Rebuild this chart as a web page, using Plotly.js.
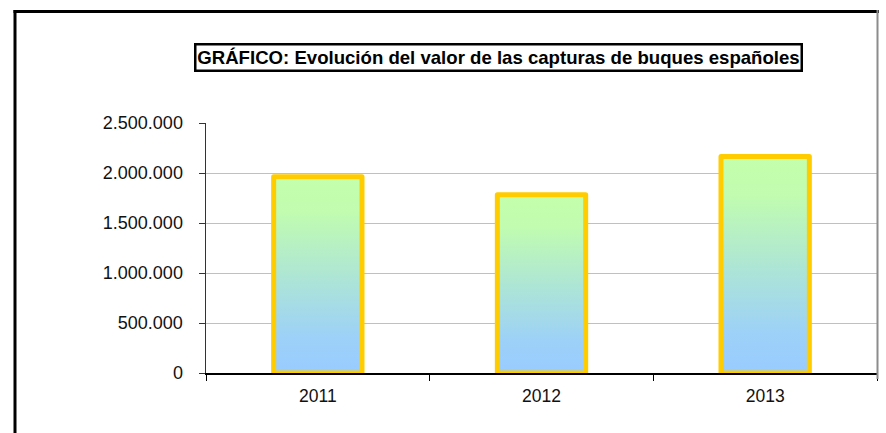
<!DOCTYPE html>
<html>
<head>
<meta charset="utf-8">
<script src="https://cdn.plot.ly/plotly-3.0.1.min.js"></script>
<style>
  html, body { margin: 0; padding: 0; background: #ffffff; }
  #chart { width: 886px; height: 433px; }
</style>
</head>
<body>
<div id="chart"></div>
<script>
// ---- data ----
const years = ['2011', '2012', '2013'];
const values = [1963000, 1782000, 2165000];
const titleText = 'GRÁFICO: Evolución del valor de las capturas de buques españoles';
const yTicks = [0, 500000, 1000000, 1500000, 2000000, 2500000];

// ---- layout constants (pixels) ----
const W = 886, H = 433;
const L = 206, R = 9, T = 123, B = 60;
const PW = W - L - R, PH = H - T - B;
const px2x = p => (p - L) / PW;
const px2y = p => (H - B - p) / PH;

const trace = {
  type: 'bar',
  x: years,
  y: values,
  width: 0.395,
  marker: {
    color: '#b0e8d0',
    line: { color: '#FFCC00', width: 5 }
  },
  hoverinfo: 'none'
};

const layout = {
  width: W,
  height: H,
  margin: { l: L, r: R, t: T, b: B, pad: 0 },
  paper_bgcolor: '#ffffff',
  plot_bgcolor: '#ffffff',
  separators: ',.',
  showlegend: false,
  font: { family: 'Liberation Sans, Arial, sans-serif', size: 18, color: '#000000' },
  xaxis: {
    type: 'category',
    tickson: 'boundaries',
    ticks: 'outside',
    ticklen: 6,
    tickcolor: '#000000',
    tickwidth: 1,
    showline: true,
    linecolor: '#000000',
    linewidth: 1.5,
    showgrid: false,
    zeroline: false,
    range: [-0.5, 2.5],
    ticklabelstandoff: 6,
    tickfont: { size: 17.5, color: '#111111' }
  },
  yaxis: {
    range: [0, 2500000],
    tickvals: yTicks,
    tickformat: ',d',
    ticks: 'outside',
    ticklen: 6,
    tickcolor: '#333333',
    showline: true,
    linecolor: '#333333',
    linewidth: 1.5,
    showgrid: true,
    gridcolor: '#c0c0c0',
    gridwidth: 1,
    zeroline: false,
    ticklabelstandoff: 12,
    tickfont: { size: 18, color: '#111111' }
  },
  annotations: [{
    xref: 'paper', yref: 'paper',
    x: px2x(498), y: px2y(57),
    xanchor: 'center', yanchor: 'middle',
    text: '<b>' + titleText + '</b>',
    showarrow: false,
    font: { family: 'Liberation Sans, Arial, sans-serif', size: 18.6, color: '#000000' },
    bordercolor: '#000000',
    borderwidth: 2.5,
    borderpad: 0,
    width: 604,
    height: 24,
    bgcolor: '#ffffff'
  }],
  shapes: [
    // outer frame: left and top (black), right (gray)
    { type: 'line', xref: 'paper', yref: 'paper', layer: 'above',
      x0: px2x(15), x1: px2x(15), y0: px2y(10), y1: px2y(440),
      line: { color: '#000000', width: 3 } },
    { type: 'line', xref: 'paper', yref: 'paper', layer: 'above',
      x0: px2x(13.5), x1: px2x(879), y0: px2y(11.5), y1: px2y(11.5),
      line: { color: '#000000', width: 3 } },
    { type: 'line', xref: 'paper', yref: 'paper', layer: 'above',
      x0: px2x(877.5), x1: px2x(877.5), y0: px2y(10), y1: px2y(379),
      line: { color: '#8c8c8c', width: 2 } }
  ]
};

Plotly.newPlot('chart', [trace], layout, { staticPlot: true, displayModeBar: false }).then(gd => {
  // vertical gradient fill for bars (green top -> blue bottom)
  const svg = gd.querySelector('svg.main-svg');
  const ns = 'http://www.w3.org/2000/svg';
  let defs = svg.querySelector('defs');
  if (!defs) { defs = document.createElementNS(ns, 'defs'); svg.insertBefore(defs, svg.firstChild); }
  const grad = document.createElementNS(ns, 'linearGradient');
  grad.setAttribute('id', 'barGrad');
  grad.setAttribute('x1', '0'); grad.setAttribute('y1', '0');
  grad.setAttribute('x2', '0'); grad.setAttribute('y2', '1');
  [['0', '#c4ffac'], ['0.18', '#c1fcb0'], ['0.5', '#aee6d4'], ['0.82', '#9dd1f8'], ['1', '#99ccff']].forEach(([o, c]) => {
    const s = document.createElementNS(ns, 'stop');
    s.setAttribute('offset', o);
    s.setAttribute('stop-color', c);
    grad.appendChild(s);
  });
  defs.appendChild(grad);
  gd.querySelectorAll('.barlayer .point path').forEach(p => {
    p.style.fill = 'url(#barGrad)';
    p.style.strokeLinejoin = 'round';
  });
});
</script>
</body>
</html>
